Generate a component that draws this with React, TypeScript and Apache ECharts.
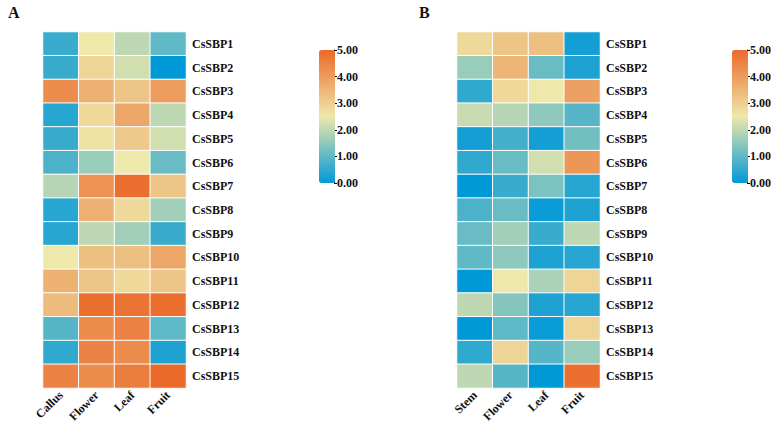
import React, { useEffect, useRef } from "react";
import * as echarts from "echarts";

const genes = ["CsSBP1","CsSBP2","CsSBP3","CsSBP4","CsSBP5","CsSBP6","CsSBP7","CsSBP8","CsSBP9","CsSBP10","CsSBP11","CsSBP12","CsSBP13","CsSBP14","CsSBP15"];
const tissuesA = ["Callus", "Flower", "Leaf", "Fruit"];
const tissuesB = ["Stem", "Flower", "Leaf", "Fruit"];

// rows: genes, columns: tissues
const valuesA = [
  [0.6, 2.5, 2.0, 1.0],
  [0.6, 2.9, 2.2, 0.0],
  [4.3, 3.6, 3.2, 4.0],
  [0.4, 2.8, 3.8, 2.0],
  [0.6, 2.6, 3.1, 2.2],
  [0.8, 1.6, 2.5, 1.1],
  [1.9, 4.2, 4.9, 3.2],
  [0.4, 3.6, 2.8, 1.7],
  [0.4, 2.0, 1.7, 0.6],
  [2.5, 3.3, 3.3, 3.8],
  [3.6, 3.2, 2.8, 3.2],
  [3.4, 4.9, 4.8, 4.9],
  [0.9, 4.3, 4.5, 1.0],
  [0.5, 4.5, 4.3, 0.3],
  [4.5, 4.3, 4.6, 5.0],
];
const valuesB = [
  [2.8, 3.2, 3.3, 0.2],
  [1.6, 3.5, 1.1, 0.3],
  [0.5, 2.8, 2.5, 3.9],
  [2.1, 1.9, 1.5, 0.9],
  [0.2, 0.7, 0.2, 1.2],
  [0.5, 1.1, 2.2, 4.1],
  [0.0, 0.6, 1.3, 0.4],
  [0.8, 1.1, 0.1, 0.3],
  [1.1, 1.7, 0.6, 2.0],
  [1.0, 1.5, 0.3, 0.4],
  [0.0, 2.5, 1.8, 2.9],
  [2.0, 1.4, 0.3, 0.4],
  [0.0, 1.0, 0.1, 2.9],
  [0.5, 2.9, 0.9, 1.6],
  [2.0, 0.9, 0.0, 4.9],
];
const scaleTicks = [0, 1, 2, 3, 4, 5];

const FONT = "'Liberation Serif', 'Times New Roman', serif";
const COLORS = ["#0099d8", "#eee8aa", "#eb6a2a"];

function toData(values: number[][]) {
  const out: number[][] = [];
  values.forEach((row, r) => row.forEach((v, c) => out.push([c, r, v])));
  return out;
}

export default function App() {
  const ref = useRef<HTMLDivElement>(null);
  useEffect(() => {
    if (!ref.current) return;
    const chart = echarts.init(ref.current, null, { renderer: "svg" });
    const heatGrid = (left: number) => ({ left, top: 32, width: 143, height: 356 });
    const catX = (gi: number, cats: string[]) => ({
      type: "category", gridIndex: gi, data: cats,
      axisLine: { show: false }, axisTick: { show: false },
      axisLabel: { rotate: 45, color: "#111", fontWeight: "bold", fontFamily: FONT, fontSize: 12, margin: 5, interval: 0 },
      splitArea: { show: false },
    });
    const catY = (gi: number) => ({
      type: "category", gridIndex: gi, data: genes, inverse: true, position: "right",
      axisLine: { show: false }, axisTick: { show: false },
      axisLabel: { color: "#111", fontWeight: "bold", fontFamily: FONT, fontSize: 12, margin: 6, interval: 0 },
    });
    const scaleY = (gi: number) => ({
      type: "value", gridIndex: gi, min: 0, max: 5, interval: 1, position: "right",
      axisLine: { show: true, lineStyle: { color: "#000", width: 1 } },
      axisTick: { show: true, length: 3, lineStyle: { color: "#000" } },
      splitLine: { show: false },
      axisLabel: { color: "#111", fontWeight: "bold", fontFamily: FONT, fontSize: 12, margin: 2,
        formatter: (v: number) => (scaleTicks.includes(v) ? v.toFixed(2) : "") },
    });
    const hiddenX = (gi: number) => ({ type: "value", gridIndex: gi, show: false });
    const vm = (si: number, left: number) => ({
      type: "continuous", seriesIndex: si, min: 0, max: 5, show: true, calculable: false,
      itemWidth: 16, itemHeight: 133, left, top: 45, padding: 5, text: ["", ""],
      inRange: { color: COLORS },
    });
    chart.setOption({
      animation: false,
      backgroundColor: "#fff",
      grid: [heatGrid(43), heatGrid(457), { left: 334, top: 50, width: 1, height: 133 }, { left: 747, top: 50, width: 1, height: 133 }],
      xAxis: [catX(0, tissuesA), catX(1, tissuesB), hiddenX(2), hiddenX(3)],
      yAxis: [catY(0), catY(1), scaleY(2), scaleY(3)],
      visualMap: [vm(0, 314), vm(1, 727)],
      series: [
        { type: "heatmap", xAxisIndex: 0, yAxisIndex: 0, data: toData(valuesA),
          itemStyle: { borderColor: "#fff", borderWidth: 1 }, emphasis: { disabled: true } },
        { type: "heatmap", xAxisIndex: 1, yAxisIndex: 1, data: toData(valuesB),
          itemStyle: { borderColor: "#fff", borderWidth: 1 }, emphasis: { disabled: true } },
      ],
      graphic: [
        { type: "text", left: 8, top: 4, style: { text: "A", font: `bold 16px ${FONT}`, fill: "#111" } },
        { type: "text", left: 419, top: 4, style: { text: "B", font: `bold 16px ${FONT}`, fill: "#111" } },
      ],
    });
    return () => chart.dispose();
  }, []);
  return <div ref={ref} style={{ position: "fixed", left: 0, top: 0, width: 784, height: 428 }} />;
}
